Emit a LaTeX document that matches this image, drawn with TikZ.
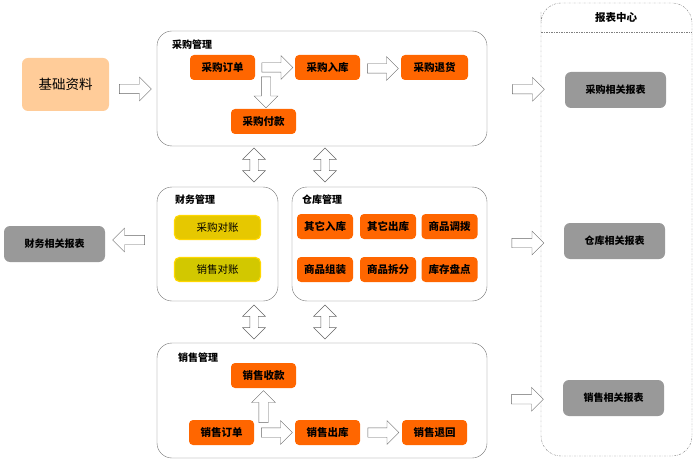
\documentclass[tikz,border=0pt]{standalone}
\usepackage{fontspec}
\setmainfont{Noto Sans CJK SC}
\usetikzlibrary{shapes.arrows,calc}
\definecolor{jobOrange}{RGB}{255,102,0}
\definecolor{basePeach}{RGB}{255,204,153}
\definecolor{reportGray}{RGB}{153,153,153}
\definecolor{chkGold}{RGB}{230,200,0}
\definecolor{chkOlive}{RGB}{210,200,0}
\definecolor{chkRim}{RGB}{255,215,0}
\tikzset{
	job/.style={fill=jobOrange, rounded corners=4pt, minimum width=65pt, minimum height=25pt, inner sep=0pt, font=\fontsize{10.5}{12}\selectfont\bfseries},
	chk/.style={draw=chkRim, line width=1.2pt, rounded corners=5pt, minimum width=86pt, minimum height=24pt, inner sep=0pt, font=\fontsize{10.5}{12}\selectfont},
	report/.style={fill=reportGray, rounded corners=6pt, minimum width=101pt, minimum height=36pt, inner sep=0pt, font=\fontsize{10}{12}\selectfont\bfseries},
	module/.style={draw=gray!90!black, rounded corners=15pt, inner sep=0pt},
	title/.style={anchor=west, inner sep=0pt, font=\fontsize{10}{12}\selectfont\bfseries},
	fat/.style={single arrow, draw=gray!80!black, fill=white, inner sep=4.5pt, minimum width=19pt, minimum height=32pt},
	twoway/.style={double arrow, draw=gray!80!black, fill=white, inner sep=4pt, minimum width=18pt, minimum height=34pt, rotate=90},
	rcline/.style={gray, dash pattern=on 2pt off 1.2pt on 0.6pt off 1.2pt}
}
\begin{document}
\begin{tikzpicture}[x=1pt,y=-1pt]
	\useasboundingbox (0,0) rectangle (700,462);

	% base data
	\node[fill=basePeach, rounded corners=6pt, minimum width=87pt, minimum height=53pt, inner sep=0pt, font=\fontsize{13.5}{15}\selectfont] (base) at (65.5,84.5) {基础资料};

	% modules
	\node[module, minimum width=330pt, minimum height=115pt] (pur) at (322,88.5) {};
	\node[title] at (172,45) {采购管理};
	\node[module, minimum width=121pt, minimum height=114pt] (fin) at (217.5,244) {};
	\node[title] at (175,200) {财务管理};
	\node[module, minimum width=195pt, minimum height=114pt] (wh) at (389.5,244) {};
	\node[title] at (302,200) {仓库管理};
	\node[module, minimum width=330pt, minimum height=115pt] (sal) at (322,400.5) {};
	\node[title] at (178,358) {销售管理};

	% report centre
	\draw[rcline, rounded corners=20pt] (541,32) -- (541,3) -- (692,3) -- (692,456) -- (541,456) -- cycle;
	\draw[rcline] (541,32) -- (692,32);
	\node[font=\fontsize{10.5}{12}\selectfont\bfseries] (rc) at (616,18) {报表中心};

	% purchase jobs
	\node[job] (po) at (222.5,67.5) {采购订单};
	\node[job] (pin) at (327.5,67.5) {采购入库};
	\node[job, minimum width=67pt] (pret) at (434.5,67.5) {采购退货};
	\node[job] (ppay) at (263.5,121.5) {采购付款};

	% finance jobs
	\node[chk, fill=chkGold] (pchk) at (217.5,227.5) {采购对账};
	\node[chk, fill=chkOlive] (schk) at (217.5,269.5) {销售对账};

	% warehouse jobs
	\foreach \n/\x/\y/\t in {w1/325/226.5/其它入库, w2/388/226.5/其它出库, w3/449.5/226.5/商品调拨,
		w4/325/269.5/商品组装, w5/388/269.5/商品拆分, w6/449.5/269.5/库存盘点}{
		\node[job, minimum width=56pt] (\n) at (\x,\y) {\t};
	}

	% sales jobs
	\node[job] (scol) at (263.5,375.5) {销售收款};
	\node[job] (so) at (221.5,432.5) {销售订单};
	\node[job] (sout) at (327.5,432.5) {销售出库};
	\node[job] (sret) at (434.5,432.5) {销售退回};

	% reports
	\node[report] (rp) at (615.5,90) {采购相关报表};
	\node[report] (rw) at (614.5,241) {仓库相关报表};
	\node[report] (rs) at (613.5,398) {销售相关报表};
	\node[report] (rf) at (54.5,244) {财务相关报表};

	% flow arrows
	\node[fat] (a1) at ($(base.east)!.5!(pur.west)+(0,2.5)$) {};
	\node[fat, minimum height=31pt] (a2) at ($(po.east)!.5!(pin.west)$) {};
	\node[fat, minimum height=31pt] (a3) at ($(pin.east)!.5!(pret.west)+(0,1)$) {};
	\node[fat, minimum height=31pt, rotate=-90] (a4) at (266,90) {};
	\node[fat] (a5) at ($(pur.east)!.5!(rp.west)$) {};
	\node[fat, rotate=180] (a6) at ($(rf.east)!.5!(fin.west)+(0,-4)$) {};
	\node[fat] (a7) at ($(wh.east)!.5!(rw.west)+(0,0.5)$) {};
	\node[fat, rotate=90] (a8) at (263.5,409) {};
	\node[fat, minimum height=31pt] (a9) at ($(so.east)!.5!(sout.west)$) {};
	\node[fat, minimum height=31pt] (a10) at ($(sout.east)!.5!(sret.west)$) {};
	\node[fat] (a11) at ($(sal.east)!.5!(rs.west)$) {};

	% links between modules
	\foreach \x/\y in {254/165, 325/165, 254/322, 325/322}{
		\node[twoway] at (\x,\y) {};
	}
\end{tikzpicture}
\end{document}
